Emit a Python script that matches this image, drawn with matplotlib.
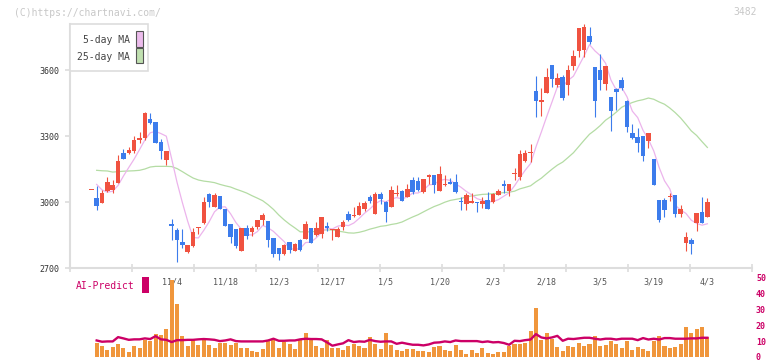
import matplotlib
matplotlib.use('Agg')
import matplotlib.pyplot as plt
import numpy as np
import pandas as pd
from matplotlib.patches import Rectangle

# daily candles (oldest first), price in yen
opens = [3053, 3018, 2997, 3050, 3055, 3086, 3223, 3223, 3232, 3282,
         3291, 3377, 3364, 3273, 3191, 2900, 2873, 2818, 2773, 2800,
         2882, 2905, 3036, 2977, 3027, 2968, 2900, 2877, 2777, 2882,
         2864, 2886, 2918, 2914, 2836, 2791, 2764, 2818, 2777, 2827,
         2832, 2882, 2850, 2855, 2891, 2873, 2841, 2886, 2945, 2936,
         2941, 2968, 3023, 2945, 3036, 3000, 2977, 3036, 3050, 3023,
         3100, 3095, 3045, 3114, 3123, 3050, 3077, 3091, 3091, 3005,
         2991, 2995, 3000, 2991, 3009, 3000, 3032, 3082, 3050, 3127,
         3114, 3186, 3223, 3505, 3455, 3495, 3623, 3532, 3568, 3532,
         3618, 3686, 3691, 3755, 3614, 3600, 3536, 3477, 3514, 3555,
         3459, 3314, 3295, 3300, 3277, 3195, 3009, 3009, 3023, 3032,
         2945, 2814, 2827, 2905, 2955, 2932]
highs = [3053, 3073, 3055, 3114, 3100, 3214, 3241, 3250, 3300, 3318,
         3409, 3405, 3364, 3286, 3232, 2923, 2882, 2877, 2805, 2882,
         2886, 3023, 3041, 3041, 3027, 2968, 2900, 2877, 2882, 2895,
         2891, 2918, 2950, 2914, 2836, 2791, 2809, 2818, 2814, 2832,
         2914, 2882, 2909, 2932, 2909, 2877, 2886, 2918, 2959, 2977,
         3000, 3005, 3032, 3045, 3045, 3005, 3073, 3077, 3055, 3082,
         3114, 3114, 3105, 3127, 3123, 3164, 3123, 3109, 3127, 3023,
         3041, 3041, 3000, 3023, 3045, 3041, 3059, 3100, 3082, 3155,
         3236, 3236, 3264, 3573, 3518, 3609, 3623, 3586, 3577, 3623,
         3691, 3791, 3809, 3795, 3614, 3673, 3618, 3477, 3518, 3568,
         3464, 3355, 3336, 3300, 3314, 3195, 3009, 3018, 3041, 3032,
         2986, 2864, 2836, 2950, 3023, 3018]
lows = [3053, 2964, 2997, 3045, 3042, 3086, 3195, 3218, 3223, 3268,
        3282, 3355, 3268, 3195, 3168, 2827, 2727, 2791, 2768, 2795,
        2855, 2900, 2977, 2977, 2968, 2891, 2814, 2791, 2777, 2832,
        2845, 2877, 2895, 2795, 2750, 2736, 2759, 2768, 2777, 2777,
        2832, 2814, 2845, 2836, 2868, 2827, 2841, 2873, 2914, 2932,
        2941, 2959, 2995, 2945, 2991, 2909, 2977, 3027, 3005, 3023,
        3036, 3050, 3041, 3082, 3041, 3050, 3073, 3082, 3041, 2964,
        2964, 2995, 2955, 2973, 2968, 2995, 3032, 3041, 3027, 3100,
        3100, 3182, 3182, 3386, 3391, 3495, 3523, 3523, 3464, 3486,
        3600, 3659, 3659, 3718, 3386, 3509, 3509, 3323, 3418, 3509,
        3318, 3286, 3227, 3186, 3245, 3077, 2909, 2932, 3005, 2932,
        2932, 2777, 2764, 2868, 2905, 2932]
closes = [3053, 2982, 3041, 3091, 3077, 3186, 3195, 3236, 3282, 3291,
          3405, 3359, 3268, 3232, 3232, 2891, 2827, 2805, 2805, 2864,
          2882, 3000, 3000, 3032, 2968, 2891, 2841, 2800, 2882, 2845,
          2882, 2918, 2941, 2827, 2764, 2764, 2805, 2782, 2809, 2782,
          2900, 2814, 2882, 2932, 2882, 2877, 2877, 2909, 2918, 2941,
          2982, 2995, 3005, 3036, 3014, 2955, 3055, 3041, 3005, 3059,
          3045, 3055, 3105, 3123, 3077, 3127, 3082, 3082, 3045, 3000,
          3032, 3005, 2995, 3005, 2968, 3036, 3050, 3073, 3082, 3127,
          3218, 3223, 3223, 3459, 3464, 3568, 3559, 3564, 3473, 3600,
          3664, 3791, 3795, 3727, 3459, 3555, 3618, 3414, 3500, 3518,
          3341, 3291, 3268, 3209, 3314, 3077, 2918, 2964, 3023, 2945,
          2968, 2841, 2809, 2950, 2905, 3000]

# moving averages at the start, where earlier days are not on the chart
ma5_head = [np.nan, 3080, 3055, 3045]
ma25_head = [np.nan, 3144, 3142, 3141, 3136, 3138, 3140, 3141, 3142, 3144,
             3150, 3159, 3162, 3162, 3162, 3161, 3152, 3138, 3123, 3109,
             3100, 3095, 3092, 3088]

# bottom panel
volume = [0, 9.2, 7.3, 4.8, 6.7, 8.8, 6.0, 3.5, 7.3, 6.0,
          11.0, 10.4, 14.8, 14.2, 17.9, 49.2, 33.8, 13.5, 7.3, 11.7,
          7.9, 12.3, 7.9, 6.0, 9.2, 9.2, 7.9, 9.2, 6.0, 6.0,
          4.2, 3.5, 5.4, 10.4, 11.7, 6.0, 9.8, 8.5, 5.4, 11.0,
          16.0, 11.7, 7.3, 6.0, 11.0, 6.0, 6.0, 4.8, 7.3, 8.5,
          7.3, 6.0, 12.9, 8.5, 5.4, 15.4, 7.9, 4.8, 4.2, 5.4,
          5.4, 4.2, 4.2, 3.5, 6.7, 7.3, 4.8, 4.2, 7.9, 4.8,
          2.3, 4.8, 2.9, 6.0, 2.9, 2.3, 3.5, 3.5, 7.3, 8.5,
          8.5, 9.2, 16.7, 31.7, 11.0, 16.0, 11.7, 6.7, 4.2, 7.3,
          6.7, 9.2, 7.3, 8.5, 13.5, 7.3, 7.9, 10.4, 8.5, 6.0,
          10.4, 4.8, 6.7, 5.4, 4.2, 10.4, 13.5, 7.3, 6.0, 6.7,
          8.5, 19.2, 16.0, 17.9, 19.2, 12.9]
ai_predict = [np.nan, 10.4, 9.6, 9.8, 9.8, 12.5, 11.7, 10.8, 11.1, 11.1,
              11.7, 11.3, 13.1, 11.1, 10.8, 9.4, 10.6, 10.6, 10.8, 10.8,
              11.1, 11.3, 11.1, 10.8, 10.0, 10.4, 11.1, 10.0, 9.8, 9.8,
              9.8, 9.8, 9.8, 10.4, 11.5, 10.2, 10.2, 10.4, 10.4, 11.1,
              11.5, 11.3, 11.3, 11.1, 9.2, 7.1, 7.9, 8.6, 10.6, 9.4,
              9.8, 9.6, 10.8, 10.0, 9.6, 9.8, 9.8, 8.3, 9.0, 8.3,
              7.7, 7.7, 7.3, 7.9, 9.0, 9.2, 9.8, 9.4, 10.4, 10.0,
              10.0, 10.0, 10.0, 9.4, 9.8, 9.2, 9.4, 8.8, 7.7, 10.2,
              10.0, 10.6, 11.0, 14.4, 12.3, 11.7, 12.3, 13.3, 10.2, 11.5,
              11.3, 11.7, 12.1, 12.1, 11.5, 11.0, 11.5, 11.5, 11.0, 11.5,
              11.5, 11.5, 10.6, 11.9, 11.0, 11.5, 11.0, 11.9, 11.9, 11.5,
              11.5, 11.5, 11.7, 11.7, 12.1, 12.1]

date_labels = ['11/4', '11/18', '12/3', '12/17', '1/5', '1/20',
               '2/3', '2/18', '3/5', '3/19', '4/3']
date_index = [15, 25, 35, 45, 55, 65, 75, 85, 95, 105, 115]
price_ticks = [2700, 3000, 3300, 3600]
vol_ticks = [0, 10, 20, 30, 40, 50]

RED = '#f05240'
BLUE = '#3c7cec'
MONO = 'DejaVu Sans Mono'

W, H = 772, 361
px_per_day = 5.357
x0_px = 91.3          # pixel of the first candle
left_px, right_px = 70, 752


def fx(px):
    return px / W


def fy(py):
    return 1 - py / H


def day(px):
    return (px - x0_px) / px_per_day


s_close = pd.Series(closes, dtype=float)
ma5 = s_close.rolling(5).mean().to_numpy()
ma5[:len(ma5_head)] = ma5_head
ma25 = s_close.rolling(25).mean().to_numpy()
ma25[:len(ma25_head)] = ma25_head

idx = np.arange(len(closes))
o = np.array(opens, float)
c = np.array(closes, float)
up = c >= o
colors = np.where(up, RED, BLUE)

fig = plt.figure(figsize=(W / 100, H / 100), dpi=100)
fig.patch.set_facecolor('white')

# price panel: 2700 at y=268px, 3000 at y=202px
ax = fig.add_axes([fx(left_px), fy(268), fx(right_px - left_px), (268 - 24) / H])
yscale = 300 / 66
ax.set_ylim(2700, 3000 + (202 - 24) * yscale)
ax.set_xlim(day(left_px), day(right_px))

ax.plot(idx, ma25, color='#b4dca4', lw=0.9, zorder=1)
ax.plot(idx, ma5, color='#ecb4ec', lw=0.9, zorder=1)

ax.vlines(idx, lows, highs, colors=colors, lw=0.8, zorder=2, clip_on=False)
body = np.maximum(np.abs(c - o), 4.5)
ax.bar(idx, body, bottom=np.minimum(o, c), width=0.84, color=colors,
       linewidth=0, zorder=3, clip_on=False)

for side in ['top', 'right']:
    ax.spines[side].set_visible(False)
for side in ['left', 'bottom']:
    ax.spines[side].set_color('#dddddd')
    ax.spines[side].set_linewidth(1.5)

ax.set_yticks(price_ticks)
ax.set_yticklabels([str(v) for v in price_ticks], fontsize=6, family=MONO,
                   color='#333333')
ax.tick_params(axis='y', length=3.6, width=1.2, color='#dddddd', pad=4)

tick_days = [day(left_px + 62 * k) for k in range(12)]
ax.set_xticks(tick_days)
ax.set_xticklabels([])
ax.tick_params(axis='x', direction='inout', length=6, width=1.2, color='#dddddd')

for i, lab in zip(date_index, date_labels):
    ax.text(i, 2700 - 14 * yscale, lab, ha='center', va='center', fontsize=6,
            family=MONO, color='#555555', clip_on=False)

# bottom panel: 0 at y=357px, 50 at y=277.5px
vax = fig.add_axes([fx(left_px), fy(357), fx(right_px - left_px), 79.5 / H])
vax.set_xlim(day(left_px), day(right_px))
vax.set_ylim(0, 50)
vax.bar(idx, volume, width=0.75, color='#f0963c', linewidth=0, zorder=1,
        bottom=-0.6)
vax.plot(idx, ai_predict, color='#cc0066', lw=1.7, zorder=2)
for s in vax.spines.values():
    s.set_visible(False)
vax.set_xticks([])
vax.set_yticks([])
for v in vol_ticks:
    vax.text(1.0, v, str(v), transform=vax.get_yaxis_transform(),
             ha='left', va='center_baseline', fontsize=6, family=MONO,
             color='#cc0066', fontweight='bold', clip_on=False)
vax.patch.set_alpha(0)

# shift the right-hand labels a few pixels off the plot edge
for t in vax.texts:
    t.set_x(1.0 + 4 / (right_px - left_px))

# legend box
fig.add_artist(Rectangle((fx(70), fy(71)), fx(78), 47 / H, transform=fig.transFigure,
                         facecolor='white', edgecolor='#dddddd', lw=1.2, zorder=5))
fig.add_artist(Rectangle((fx(136), fy(46.5)), fx(6.5), 15.5 / H, transform=fig.transFigure,
                         facecolor='#ecbcec', edgecolor='#555555', lw=0.8, zorder=6))
fig.add_artist(Rectangle((fx(136), fy(63.3)), fx(6.5), 15 / H, transform=fig.transFigure,
                         facecolor='#c0e0b0', edgecolor='#555555', lw=0.8, zorder=6))
fig.text(fx(130), fy(40), '5-day MA', ha='right', va='center', fontsize=7,
         family=MONO, color='#444444', zorder=7)
fig.text(fx(130), fy(57), '25-day MA', ha='right', va='center', fontsize=7,
         family=MONO, color='#444444', zorder=7)

# AI-Predict label
fig.text(fx(76), fy(286), 'AI-Predict', ha='left', va='center', fontsize=7,
         family=MONO, color='#cc0066')
fig.add_artist(Rectangle((fx(142.3), fy(292.7)), fx(6.4), 15.4 / H,
                         transform=fig.transFigure, facecolor='#cc0066',
                         edgecolor='none'))

# watermark and code
fig.text(fx(14), fy(12.5), '(C)https://chartnavi.com/', ha='left', va='center',
         fontsize=7, family=MONO, color='#c8c8c8')
fig.text(fx(757), fy(12), '3482', ha='right', va='center', fontsize=7,
         family=MONO, color='#c8c8c8')

fig.savefig('out.png', dpi=100, facecolor='white')
